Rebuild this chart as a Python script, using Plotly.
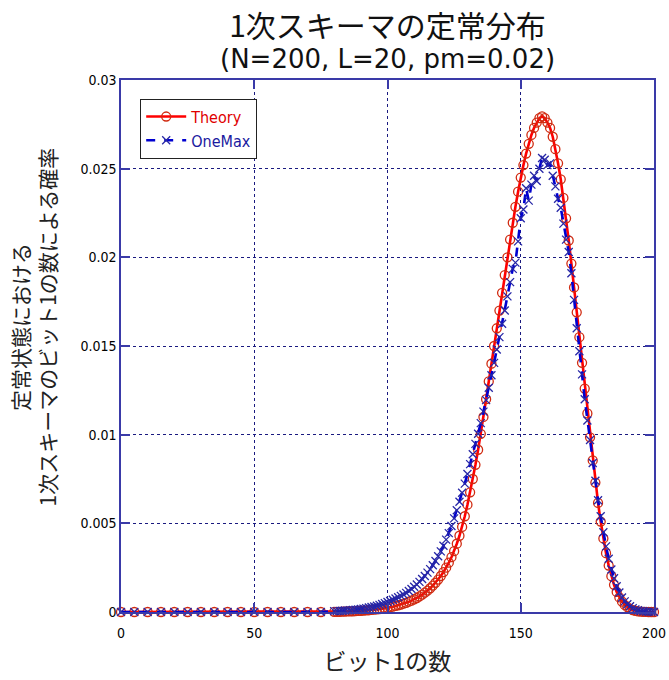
import plotly.graph_objects as go

# Number of "1" bits: coarse steps on the flat tail, unit steps where the curve lives
bit_counts = list(range(0, 80, 5)) + list(range(80, 201))

tail_zeros = [0.0] * 16  # x = 0, 5, ..., 75

# Stationary probability (in units of 1e-3) for x = 80 .. 200
theory_permille = tail_zeros + [
    0.01, 0.01, 0.01, 0.02, 0.02, 0.03, 0.03, 0.04, 0.05, 0.06,
    0.07, 0.08, 0.09, 0.10, 0.12, 0.13, 0.15, 0.17, 0.19, 0.21,
    0.24, 0.27, 0.30, 0.34, 0.38, 0.42, 0.47, 0.52, 0.58, 0.64,
    0.71, 0.79, 0.88, 0.98, 1.09, 1.21, 1.34, 1.49, 1.65, 1.83,
    2.03, 2.25, 2.50, 2.78, 3.09, 3.43, 3.85, 4.30, 4.80, 5.40,
    6.05, 6.75, 7.50, 8.30, 9.15, 10.05, 11.00, 12.00, 13.00, 14.00,
    15.00, 16.00, 17.00, 18.00, 19.00, 20.00, 21.00, 21.95, 22.85, 23.70,
    24.50, 25.20, 25.85, 26.40, 26.90, 27.30, 27.60, 27.85, 27.95, 27.85,
    27.60, 27.30, 26.80, 26.10, 25.30, 24.40, 23.35, 22.20, 20.95, 19.65,
    18.30, 16.90, 15.50, 14.05, 12.60, 11.20, 9.85, 8.55, 7.30, 6.15,
    5.10, 4.15, 3.32, 2.62, 2.02, 1.53, 1.13, 0.82, 0.58, 0.40,
    0.27, 0.18, 0.11, 0.07, 0.04, 0.02, 0.01, 0.01, 0.00, 0.00,
    0.00,
]

onemax_permille = tail_zeros + [
    0.05, 0.05, 0.06, 0.07, 0.08, 0.09, 0.10, 0.12, 0.13, 0.15,
    0.17, 0.19, 0.22, 0.25, 0.28, 0.31, 0.35, 0.40, 0.45, 0.50,
    0.56, 0.62, 0.69, 0.76, 0.83, 0.91, 0.99, 1.08, 1.18, 1.30,
    1.42, 1.55, 1.70, 1.86, 2.03, 2.22, 2.42, 2.64, 2.88, 3.14,
    3.42, 3.74, 4.08, 4.45, 4.85, 5.28, 5.74, 6.22, 6.72, 7.24,
    7.78, 8.34, 8.90, 9.48, 10.05, 10.65, 11.30, 11.95, 12.65, 13.35,
    14.05, 14.80, 15.50, 16.25, 17.00, 17.80, 18.60, 19.35, 19.70, 20.90,
    22.20, 22.70, 23.90, 23.20, 24.10, 24.60, 24.30, 25.00, 25.60, 25.50,
    25.20, 25.30, 24.60, 24.00, 23.30, 22.80, 21.90, 21.00, 20.30, 19.10,
    17.60, 16.00, 14.70, 13.40, 12.00, 10.80, 9.70, 8.40, 7.40, 6.30,
    5.40, 4.50, 3.70, 3.00, 2.40, 1.90, 1.45, 1.10, 0.82, 0.60,
    0.44, 0.32, 0.22, 0.15, 0.10, 0.06, 0.04, 0.02, 0.01, 0.01,
    0.00,
]

theory = [v / 1000 for v in theory_permille]
onemax = [v / 1000 for v in onemax_permille]

x_ticks = [0, 50, 100, 150, 200]
y_ticks = [0, 0.005, 0.01, 0.015, 0.02, 0.025, 0.03]
y_tick_text = ["0", "0.005", "0.01", "0.015", "0.02", "0.025", "0.03"]

JP = "Noto Sans CJK JP"
NARROW = "Liberation Sans Narrow, DejaVu Sans Condensed, Arial"
AXIS_BLUE = "#3a3aa8"
GRID_BLUE = "#1a1a80"

title_main = "1次スキーマの定常分布"
title_params = "(N=200, L=20, pm=0.02)"

fig = go.Figure()

fig.add_trace(go.Scatter(
    x=bit_counts, y=theory, mode="lines+markers",
    name="<span style='color:#e00000'>Theory</span>",
    line=dict(color="#ff0000", width=2.6),
    marker=dict(symbol="circle-open", size=9, color="#d02a10", line=dict(width=1.3)),
    cliponaxis=False,
))

fig.add_trace(go.Scatter(
    x=bit_counts, y=onemax, mode="lines+markers",
    name="<span style='color:#1a1aa0'>OneMax</span>",
    line=dict(color="#0000d0", width=2.6, dash="dash"),
    marker=dict(symbol="x-thin-open", size=8, color="#2626a6", line=dict(width=1.3, color="#2626a6")),
    cliponaxis=False,
))

axis_common = dict(
    showline=True, linecolor=AXIS_BLUE, linewidth=1.5, mirror="ticks",
    ticks="inside", ticklen=9, tickcolor=AXIS_BLUE, tickwidth=1.5,
    showgrid=True, gridcolor=GRID_BLUE, gridwidth=1, griddash="dot",
    zeroline=False, automargin=False,
    tickfont=dict(family=NARROW, size=14, color="#000000"),
)

fig.update_xaxes(
    range=[0, 200], tickvals=x_ticks, ticktext=[str(t) for t in x_ticks],
    ticklabelstandoff=7,
    title=dict(text="ビット1の数", font=dict(family=JP, size=23, color="#222222"), standoff=14),
    **axis_common,
)
fig.update_yaxes(
    range=[0, 0.03], tickvals=y_ticks, ticktext=y_tick_text,
    **axis_common,
)

fig.update_layout(
    width=669, height=680,
    margin=dict(l=121, r=15, t=80, b=68, autoexpand=False),
    paper_bgcolor="white", plot_bgcolor="white",
    showlegend=True,
    legend=dict(
        x=0.036, y=0.965, xanchor="left", yanchor="top",
        bgcolor="white", bordercolor="#222222", borderwidth=1,
        font=dict(family=NARROW, size=16),
        itemwidth=40,
    ),
    annotations=[
        dict(text=(f"<span style='font-size:30px'>{title_main}</span><br>"
                   f"<span style='font-family:DejaVu Sans;font-size:26px'>{title_params}</span>"),
             xref="paper", yref="paper",
             x=0.5, y=1.0, yshift=42, xanchor="center", yanchor="middle",
             showarrow=False, font=dict(family=JP, size=24, color="#111111")),
        dict(text="定常状態における<br>1次スキーマのビット1の数による確率",
             xref="paper", yref="paper", x=-0.165, y=0.535,
             xanchor="center", yanchor="middle", textangle=-90,
             showarrow=False, font=dict(family=JP, size=21, color="#222222")),
    ],
)

fig.write_html("out.html")
